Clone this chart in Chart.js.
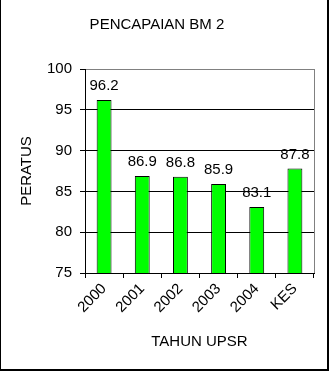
<!DOCTYPE html>
<html>
<head>
<meta charset="utf-8">
<script src="https://cdn.jsdelivr.net/npm/chart.js@4.4.1/dist/chart.umd.min.js"></script>
<style>
body{margin:0;background:#fff}
#wrap{position:relative;width:329px;height:371px}
</style>
</head>
<body>
<div id="wrap"><canvas id="c" width="329" height="371"></canvas></div>
<script>
const tahun = ["2000","2001","2002","2003","2004","KES"]
const peratus = [96.2,86.9,86.8,85.9,83.1,87.8]
const yTicks = [75,80,85,90,95,100]

const FONT = "'Liberation Sans', Arial, sans-serif"

// label nilai di atas batang + bingkai
const extras = {
id:'extras',
beforeDatasetsDraw(chart){
const ctx = chart.ctx
const a = chart.chartArea
ctx.save()
ctx.strokeStyle = '#808080'
ctx.lineWidth = 1
ctx.beginPath()
ctx.moveTo(Math.round(a.right)+0.5, a.top)
ctx.lineTo(Math.round(a.right)+0.5, a.bottom)
ctx.stroke()
ctx.restore()
},
afterDatasetsDraw(chart){
const ctx = chart.ctx
const meta = chart.getDatasetMeta(0)
ctx.save()
ctx.font = "15px "+FONT
ctx.fillStyle = '#000'
ctx.textAlign = 'center'
ctx.textBaseline = 'alphabetic'
meta.data.forEach((bar,i)=>{
ctx.fillText(peratus[i].toFixed(1), bar.x, bar.y-10)
})
ctx.restore()
},
afterDraw(chart){
const ctx = chart.ctx
ctx.save()
ctx.fillStyle = '#000'
ctx.fillRect(0,0,1,371)
ctx.fillRect(327,0,2,371)
ctx.fillRect(0,369,329,2)
ctx.restore()
}
}

new Chart(document.getElementById('c'),{
type:'bar',
data:{
labels:tahun,
datasets:[{
data:peratus,
backgroundColor:'#00ff00',
borderColor:'#000',
borderWidth:1,
categoryPercentage:1,
barPercentage:0.39
}]
},
options:{
responsive:false,
animation:false,
events:[],
layout:{padding:{left:0,right:15,top:0,bottom:0}},
plugins:{
legend:{display:false},
tooltip:{enabled:false},
title:{
display:true,
text:'PENCAPAIAN BM 2',
color:'#000',
font:{family:FONT,size:15,weight:'normal'},
padding:{top:16,bottom:35}
}
},
scales:{
x:{
grid:{offset:true,drawOnChartArea:false,color:'#000',tickLength:5},
border:{color:'#000'},
ticks:{color:'#000',font:{family:FONT,size:15},minRotation:45,maxRotation:45,padding:2},
title:{display:true,text:'TAHUN UPSR',color:'#000',font:{family:FONT,size:15},padding:{top:0,bottom:20}},
afterFit(s){ s.height = 98 }
},
y:{
min:75,max:100,
afterBuildTicks(s){ s.ticks = yTicks.map(v=>({value:v})) },
grid:{
color:c=> c.tick && c.tick.value===100 ? '#808080' : '#000',
tickColor:'#000',
tickLength:5
},
border:{color:'#000'},
ticks:{color:'#000',font:{family:FONT,size:15},padding:8},
title:{display:true,text:'PERATUS',color:'#000',font:{family:FONT,size:15},padding:{top:18,bottom:0}},
afterFit(s){ s.width = 85 }
}
}
},
plugins:[extras]
})
</script>
</body>
</html>
